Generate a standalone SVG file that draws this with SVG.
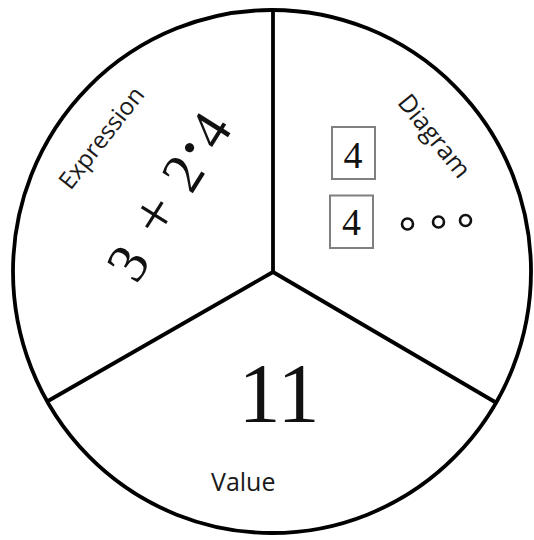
<svg xmlns="http://www.w3.org/2000/svg" width="534" height="540" viewBox="0 0 534 540">
<style>
.ln{stroke:#000;stroke-width:3.8;fill:none;stroke-linecap:round}
.lbl{font-family:"Open Sans","Noto Sans",sans-serif;fill:#1a1a1a}
.math{font-family:"Liberation Serif","Times New Roman",serif;fill:#111}
.box{fill:none;stroke:#808080;stroke-width:2}
.dot{fill:none;stroke:#111;stroke-width:2.6}
</style>
<rect width="534" height="540" fill="#fff"/>
<g id="outline">
<ellipse class="ln" cx="272" cy="271.5" rx="259" ry="261.5"/>
</g>
<g id="connectors">
<line class="ln" x1="273" y1="272" x2="273" y2="11"/>
<line class="ln" x1="273" y1="272" x2="48" y2="401"/>
<line class="ln" x1="273" y1="272" x2="495" y2="402"/>
</g>
<g id="expression">
<text class="lbl" font-size="24" text-anchor="middle" transform="translate(108 143) rotate(-52)">Expression</text>
<g transform="translate(128 263) rotate(-58)" class="math" font-size="57" text-anchor="middle">
<text x="0" y="19">3</text>
<text x="55" y="18" font-size="64">+</text>
<text x="105.5" y="18">2</text>
<text x="130.5" y="10" font-weight="bold">·</text>
<text x="156" y="18">4</text>
</g>
</g>
<g id="diagram">
<text class="lbl" font-size="25" text-anchor="middle" transform="translate(427.6 141.4) rotate(51)">Diagram</text>
<rect class="box" x="332" y="127" width="43" height="52"/>
<text class="math" font-size="38" text-anchor="middle" x="353" y="168">4</text>
<rect class="box" x="330" y="195.5" width="43" height="52.5"/>
<text class="math" font-size="38" text-anchor="middle" x="351.5" y="234.5">4</text>
<circle class="dot" cx="407.5" cy="224" r="5.5"/>
<circle class="dot" cx="438.5" cy="222" r="5.5"/>
<circle class="dot" cx="465.5" cy="220.5" r="5.5"/>
</g>
<g id="value">
<text class="math" font-size="84" text-anchor="middle" x="279" y="422">11</text>
<text class="lbl" font-size="25" x="211" y="491">Value</text>
</g>
</svg>
